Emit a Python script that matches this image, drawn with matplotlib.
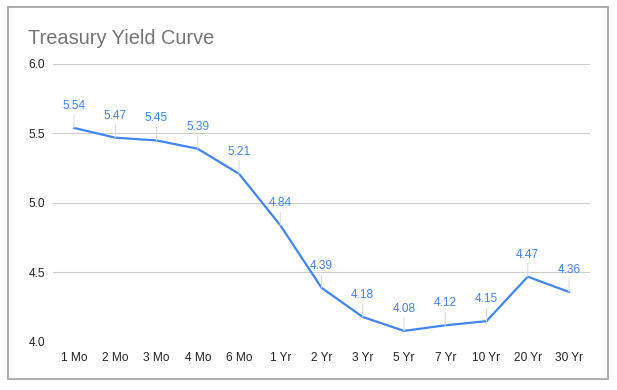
import matplotlib
matplotlib.use('Agg')
import matplotlib.pyplot as plt
from matplotlib.patches import Rectangle

plt.rcParams['font.family'] = ['Liberation Sans', 'DejaVu Sans']

# 数据
maturities = ['1 Mo', '2 Mo', '3 Mo', '4 Mo', '6 Mo', '1 Yr', '2 Yr',
              '3 Yr', '5 Yr', '7 Yr', '10 Yr', '20 Yr', '30 Yr']
yields = [5.54, 5.47, 5.45, 5.39, 5.21, 4.84, 4.39,
          4.18, 4.08, 4.12, 4.15, 4.47, 4.36]
y_ticks = [4.0, 4.5, 5.0, 5.5, 6.0]

line_color = '#4285f4'

fig = plt.figure(figsize=(6.17, 3.90), dpi=100)
ax = fig.add_axes([0.0866, 0.1231, 0.8690, 0.7128])

x = list(range(len(maturities)))
ax.plot(x, yields, color=line_color, lw=1.6, zorder=3)

# 数据标签 + 引线
for i, v in zip(x, yields):
    ax.annotate(f'{v:.2f}', xy=(i, v), xytext=(0, 11.5), textcoords='offset points',
                ha='center', va='bottom', fontsize=8.6, color=line_color,
                arrowprops=dict(arrowstyle='-', color='#dddddd', lw=0.8,
                                shrinkA=0, shrinkB=0), zorder=4)

ax.set_xlim(-0.5, len(maturities) - 0.5)
ax.set_ylim(4.0, 6.0)
ax.set_yticks(y_ticks)
ax.set_yticklabels([f'{t:.1f}' for t in y_ticks])
ax.set_xticks(x)
ax.set_xticklabels(maturities)
ax.tick_params(length=0, labelsize=8.6, colors='#222222', pad=7)
ax.tick_params(axis='y', pad=6)
ax.grid(axis='y', color='#cccccc', lw=0.8)
ax.set_axisbelow(True)
for s in ax.spines.values():
    s.set_visible(False)

fig.text(28 / 617, 1 - 38 / 390, 'Treasury Yield Curve', fontsize=14.4,
         color='#757575', va='center', ha='left')

# 外框
fig.patches.append(Rectangle((8 / 617, 11 / 390), 600 / 617, 372 / 390,
                             transform=fig.transFigure, fill=False,
                             edgecolor='#9e9e9e', lw=1.2))

fig.savefig('out.png', dpi=100)
